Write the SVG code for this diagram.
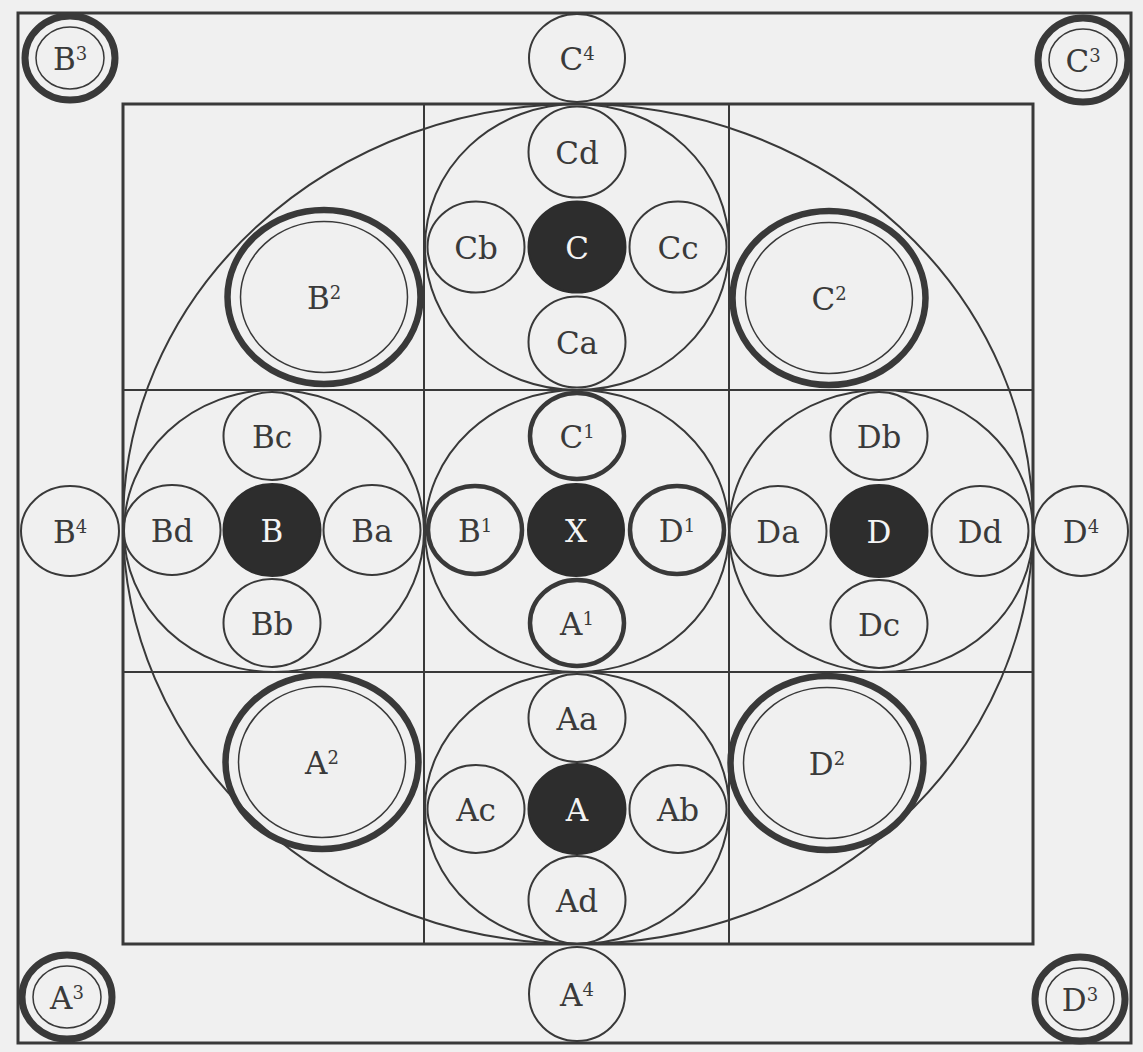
<svg xmlns="http://www.w3.org/2000/svg" width="1143" height="1052" viewBox="0 0 1143 1052">
<style>
.ln{fill:none;stroke:#393939;stroke-width:2}
.fr{fill:none;stroke:#393939;stroke-width:3}
.c{fill:none;stroke:#393939;stroke-width:2}
.tk{fill:none;stroke:#393939;stroke-width:4.5}
.dk{fill:#2d2d2d;stroke:#2d2d2d;stroke-width:2}
.dbo{fill:none;stroke:#393939;stroke-width:6.5}
.dbi{fill:none;stroke:#393939;stroke-width:1.5}
.co{fill:none;stroke:#393939;stroke-width:7}
text{font-family:"DejaVu Serif","Liberation Serif",serif;font-size:31px;text-anchor:middle;fill:#3a3a3a}
text.w{fill:#f4f4f4}
.sup{font-size:18px}
</style>
<rect x="0" y="0" width="1143" height="1052" fill="#f0f0f0"/>
<g id="frame">
<rect class="fr" x="18" y="13" width="1113" height="1030"/>
<rect class="fr" x="123" y="104" width="910" height="840"/>
<line class="ln" x1="424" y1="104" x2="424" y2="944"/>
<line class="ln" x1="729" y1="104" x2="729" y2="944"/>
<line class="ln" x1="123" y1="390" x2="1033" y2="390"/>
<line class="ln" x1="123" y1="672" x2="1033" y2="672"/>
<ellipse class="ln" cx="578" cy="524" rx="455" ry="420"/>
<ellipse class="ln" cx="577" cy="247" rx="152" ry="143"/>
<ellipse class="ln" cx="577" cy="531" rx="152" ry="141"/>
<ellipse class="ln" cx="577" cy="808" rx="152" ry="136"/>
<ellipse class="ln" cx="274" cy="531" rx="150" ry="141"/>
<ellipse class="ln" cx="881" cy="531" rx="152" ry="141"/>
</g>
<g id="connectors"></g>
<g id="node-B3"><ellipse class="co" cx="70" cy="58" rx="45" ry="42"/><ellipse class="dbi" cx="70" cy="58" rx="34" ry="31"/><text x="70" y="70">B<tspan class="sup" dy="-10">3</tspan></text></g>
<g id="node-C3"><ellipse class="co" cx="1083" cy="60" rx="45" ry="42"/><ellipse class="dbi" cx="1083" cy="60" rx="34" ry="31"/><text x="1083" y="72">C<tspan class="sup" dy="-10">3</tspan></text></g>
<g id="node-A3"><ellipse class="co" cx="67" cy="997" rx="45" ry="42"/><ellipse class="dbi" cx="67" cy="997" rx="34" ry="31"/><text x="67" y="1009">A<tspan class="sup" dy="-10">3</tspan></text></g>
<g id="node-D3"><ellipse class="co" cx="1080" cy="999" rx="45" ry="42"/><ellipse class="dbi" cx="1080" cy="999" rx="34" ry="31"/><text x="1080" y="1011">D<tspan class="sup" dy="-10">3</tspan></text></g>
<g id="node-C4"><ellipse class="c" cx="577" cy="58" rx="48" ry="44"/><text x="577" y="70">C<tspan class="sup" dy="-10">4</tspan></text></g>
<g id="node-A4"><ellipse class="c" cx="577" cy="994" rx="48" ry="47"/><text x="577" y="1006">A<tspan class="sup" dy="-10">4</tspan></text></g>
<g id="node-B4"><ellipse class="c" cx="70" cy="531" rx="49" ry="45"/><text x="70" y="543">B<tspan class="sup" dy="-10">4</tspan></text></g>
<g id="node-D4"><ellipse class="c" cx="1081" cy="531" rx="47" ry="45"/><text x="1081" y="543">D<tspan class="sup" dy="-10">4</tspan></text></g>
<g id="node-B2"><ellipse class="dbo" cx="324" cy="297" rx="96.5" ry="87"/><ellipse class="dbi" cx="324" cy="297" rx="83.5" ry="75.5"/><text x="324" y="309">B<tspan class="sup" dy="-10">2</tspan></text></g>
<g id="node-C2"><ellipse class="dbo" cx="829" cy="298" rx="96.5" ry="87"/><ellipse class="dbi" cx="829" cy="298" rx="83.5" ry="75.5"/><text x="829" y="310">C<tspan class="sup" dy="-10">2</tspan></text></g>
<g id="node-A2"><ellipse class="dbo" cx="322" cy="762" rx="96.5" ry="87"/><ellipse class="dbi" cx="322" cy="762" rx="83.5" ry="75.5"/><text x="322" y="774">A<tspan class="sup" dy="-10">2</tspan></text></g>
<g id="node-D2"><ellipse class="dbo" cx="827" cy="763" rx="96.5" ry="87"/><ellipse class="dbi" cx="827" cy="763" rx="83.5" ry="75.5"/><text x="827" y="775">D<tspan class="sup" dy="-10">2</tspan></text></g>
<g id="node-Cd"><ellipse class="c" cx="577" cy="152" rx="48.5" ry="45.5"/><text x="577" y="164">Cd</text></g>
<g id="node-Cb"><ellipse class="c" cx="476" cy="247" rx="48.5" ry="45.5"/><text x="476" y="259">Cb</text></g>
<g id="node-C"><ellipse class="dk" cx="577" cy="247" rx="48.5" ry="45.5"/><text class="w" x="577" y="259">C</text></g>
<g id="node-Cc"><ellipse class="c" cx="678" cy="247" rx="48.5" ry="45.5"/><text x="678" y="259">Cc</text></g>
<g id="node-Ca"><ellipse class="c" cx="577" cy="342" rx="48.5" ry="45.5"/><text x="577" y="354">Ca</text></g>
<g id="node-C1"><ellipse class="tk" cx="577" cy="436" rx="47" ry="43"/><text x="577" y="448">C<tspan class="sup" dy="-10">1</tspan></text></g>
<g id="node-B1"><ellipse class="tk" cx="475" cy="530" rx="47" ry="44"/><text x="475" y="542">B<tspan class="sup" dy="-10">1</tspan></text></g>
<g id="node-X"><ellipse class="dk" cx="576" cy="530" rx="48" ry="46"/><text class="w" x="576" y="542">X</text></g>
<g id="node-D1"><ellipse class="tk" cx="677" cy="530" rx="47" ry="44"/><text x="677" y="542">D<tspan class="sup" dy="-10">1</tspan></text></g>
<g id="node-A1"><ellipse class="tk" cx="577" cy="623" rx="47" ry="43"/><text x="577" y="635">A<tspan class="sup" dy="-10">1</tspan></text></g>
<g id="node-Aa"><ellipse class="c" cx="577" cy="718" rx="48.5" ry="44"/><text x="577" y="730">Aa</text></g>
<g id="node-Ac"><ellipse class="c" cx="476" cy="809" rx="48.5" ry="44"/><text x="476" y="821">Ac</text></g>
<g id="node-A"><ellipse class="dk" cx="577" cy="809" rx="48.5" ry="45"/><text class="w" x="577" y="821">A</text></g>
<g id="node-Ab"><ellipse class="c" cx="678" cy="809" rx="48.5" ry="44"/><text x="678" y="821">Ab</text></g>
<g id="node-Ad"><ellipse class="c" cx="577" cy="900" rx="48.5" ry="44"/><text x="577" y="912">Ad</text></g>
<g id="node-Bc"><ellipse class="c" cx="272" cy="436" rx="48.5" ry="44"/><text x="272" y="448">Bc</text></g>
<g id="node-Bd"><ellipse class="c" cx="172" cy="530" rx="48.5" ry="45"/><text x="172" y="542">Bd</text></g>
<g id="node-B"><ellipse class="dk" cx="272" cy="530" rx="48.5" ry="46"/><text class="w" x="272" y="542">B</text></g>
<g id="node-Ba"><ellipse class="c" cx="372" cy="530" rx="48.5" ry="45"/><text x="372" y="542">Ba</text></g>
<g id="node-Bb"><ellipse class="c" cx="272" cy="623" rx="48.5" ry="44"/><text x="272" y="635">Bb</text></g>
<g id="node-Db"><ellipse class="c" cx="879" cy="436" rx="48.5" ry="44"/><text x="879" y="448">Db</text></g>
<g id="node-Da"><ellipse class="c" cx="778" cy="531" rx="48.5" ry="45"/><text x="778" y="543">Da</text></g>
<g id="node-D"><ellipse class="dk" cx="879" cy="531" rx="48.5" ry="46"/><text class="w" x="879" y="543">D</text></g>
<g id="node-Dd"><ellipse class="c" cx="980" cy="531" rx="48.5" ry="45"/><text x="980" y="543">Dd</text></g>
<g id="node-Dc"><ellipse class="c" cx="879" cy="624" rx="48.5" ry="44"/><text x="879" y="636">Dc</text></g>
</svg>
